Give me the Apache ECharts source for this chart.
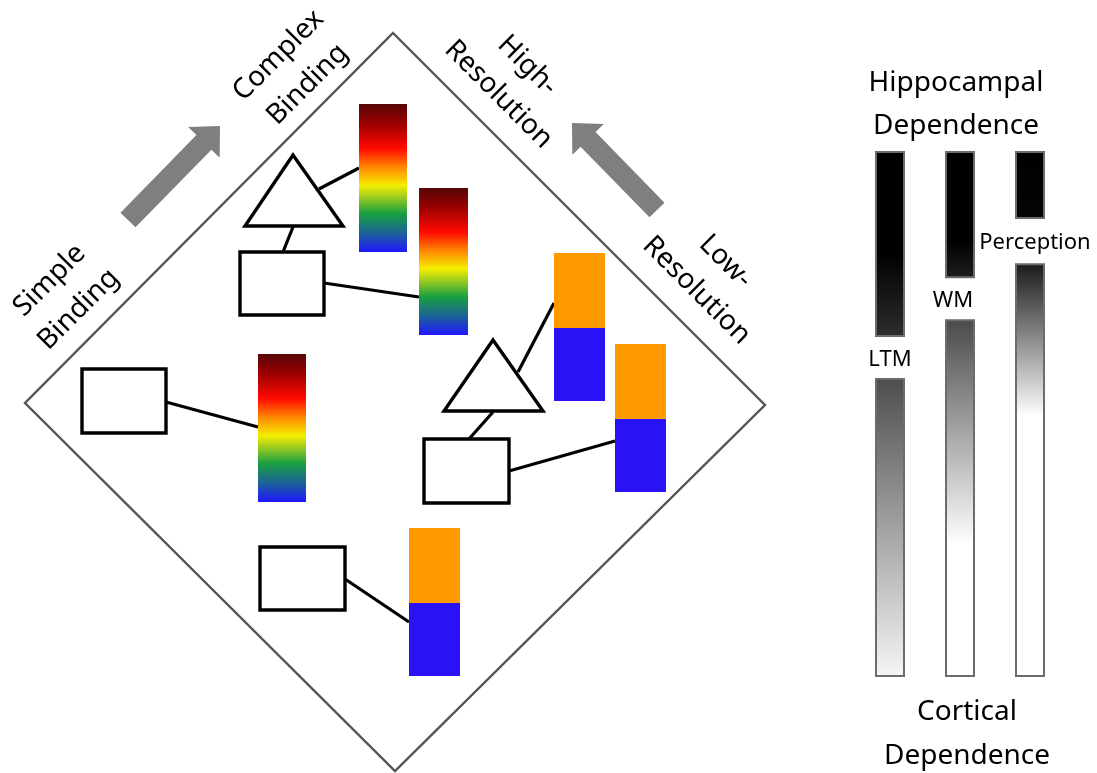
<!DOCTYPE html>
<html>
<head>
<meta charset="utf-8">
<title>Binding and resolution</title>
<script src="https://cdn.jsdelivr.net/npm/echarts@6/dist/echarts.min.js"></script>
<style>
  html, body { margin: 0; padding: 0; background: #fff; }
  #main { width: 1097px; height: 773px; }
</style>
</head>
<body>
<div id="main"></div>
<script>
// diagram data, in diagram units (x to the right, y downwards)
var frameCorners = [[393, 33], [765, 405], [395, 771], [25, 403]];
var arrowLines = [[128, 220, 220, 126], [657, 210, 572, 123]]; // tail x,y -> tip x,y
var triangles = [[293, 155, 245, 226, 343, 226], [493, 340, 444, 411, 543, 411]];
var boxes = [[240, 252, 324, 315], [82, 369, 166, 433], [424, 439, 509, 503], [260, 547, 345, 610]];
var spectrumBars = [[359, 104, 407, 252], [419, 188, 468, 335], [258, 354, 306, 502]];
var twoToneBars = [[554, 253, 328, 605, 401], [615, 344, 419, 666, 492], [409, 528, 603, 460, 676]]; // x0, top, split, x1, bottom
var links = [
  [319, 189, 359, 168], [293, 227, 283, 252], [324, 283, 419, 297], [166, 402, 258, 427],
  [518, 372, 554, 303], [493, 412, 469, 439], [509, 471, 615, 441], [345, 579, 409, 622]
];
var axisTitles = ['Simple\nBinding', 'Complex\nBinding', 'High-\nResolution', 'Low-\nResolution'];
var axisTitleAt = [[64, 295], [293, 70], [513, 80], [711, 276]];
var axisTitleAngle = [45, 45, -45, -45];

// right panel: where hippocampal part ends / cortical part starts (% of bar, from top)
var memoryTypes = ['LTM', 'WM', 'Perception'];
var hippoEnd = [35.1, 23.9, 12.6];
var cortexStart = [43.3, 32.1, 21.4];
var panelTitles = ['Hippocampal\nDependence', 'Cortical\nDependence'];

var chart = echarts.init(document.getElementById('main'));

var FONT = '"Noto Sans", "Open Sans", sans-serif';
var rainbow = [
  { offset: 0, color: '#560606' },
  { offset: 0.14, color: '#a00000' },
  { offset: 0.3, color: '#ff0a00' },
  { offset: 0.43, color: '#ff8a00' },
  { offset: 0.55, color: '#f4ee00' },
  { offset: 0.63, color: '#9ccc20' },
  { offset: 0.74, color: '#18a040' },
  { offset: 0.87, color: '#1c6496' },
  { offset: 1, color: '#2016ff' }
];
var upperStops = [
  [{ offset: 0, color: '#000' }, { offset: 0.55, color: '#000' }, { offset: 1, color: '#2e2e2e' }],
  [{ offset: 0, color: '#000' }, { offset: 0.7, color: '#000' }, { offset: 1, color: '#1e1e1e' }],
  [{ offset: 0, color: '#000' }, { offset: 1, color: '#050505' }]
];
var lowerStops = [
  [{ offset: 0, color: '#4d4d4d' }, { offset: 1, color: '#f6f6f6' }],
  [{ offset: 0, color: '#4a4a4a' }, { offset: 0.63, color: '#ffffff' }, { offset: 1, color: '#ffffff' }],
  [{ offset: 0, color: '#1a1a1a' }, { offset: 0.37, color: '#ffffff' }, { offset: 1, color: '#ffffff' }]
];
var labelShift = [0, -7, 5];

function vals(api, n) {
  var out = [];
  for (var i = 0; i < n; i++) out.push(api.value(i));
  return out;
}

function centredText(text, size, lineHeight) {
  return {
    text: text, fontSize: size, fontFamily: FONT, fill: '#000', lineHeight: lineHeight,
    align: 'center', verticalAlign: 'middle', textAlign: 'center', textVerticalAlign: 'middle'
  };
}

var series = [];

// frame
series.push({
  type: 'custom', xAxisIndex: 0, yAxisIndex: 0, silent: true,
  data: [[].concat.apply([], frameCorners)],
  renderItem: function (params, api) {
    var v = vals(api, 8), pts = [];
    for (var i = 0; i < 8; i += 2) pts.push(api.coord([v[i], v[i + 1]]));
    return { type: 'polygon', shape: { points: pts }, style: { fill: 'none', stroke: '#555', lineWidth: 2.4 } };
  }
});

// arrows
series.push({
  type: 'custom', xAxisIndex: 0, yAxisIndex: 0, silent: true,
  data: arrowLines,
  renderItem: function (params, api) {
    var t = api.coord([api.value(0), api.value(1)]);
    var p = api.coord([api.value(2), api.value(3)]);
    var dx = p[0] - t[0], dy = p[1] - t[1], len = Math.sqrt(dx * dx + dy * dy);
    dx /= len; dy /= len;
    var nx = -dy, ny = dx, hl = 23, hw = 22, sw = 10.5;
    var b = [p[0] - dx * hl, p[1] - dy * hl];
    var pts = [
      [t[0] + nx * sw, t[1] + ny * sw], [b[0] + nx * sw, b[1] + ny * sw], [b[0] + nx * hw, b[1] + ny * hw],
      p, [b[0] - nx * hw, b[1] - ny * hw], [b[0] - nx * sw, b[1] - ny * sw], [t[0] - nx * sw, t[1] - ny * sw]
    ];
    return { type: 'polygon', shape: { points: pts }, style: { fill: '#7f7f7f' } };
  }
});

// connecting lines
series.push({
  type: 'custom', xAxisIndex: 0, yAxisIndex: 0, silent: true,
  data: links,
  renderItem: function (params, api) {
    var a = api.coord([api.value(0), api.value(1)]);
    var b = api.coord([api.value(2), api.value(3)]);
    return { type: 'line', shape: { x1: a[0], y1: a[1], x2: b[0], y2: b[1] }, style: { stroke: '#000', lineWidth: 3.2 } };
  }
});

// triangles
series.push({
  type: 'custom', xAxisIndex: 0, yAxisIndex: 0, silent: true,
  data: triangles,
  renderItem: function (params, api) {
    var v = vals(api, 6), pts = [];
    for (var i = 0; i < 6; i += 2) pts.push(api.coord([v[i], v[i + 1]]));
    return { type: 'polygon', shape: { points: pts }, style: { fill: '#fff', stroke: '#000', lineWidth: 3.4, lineJoin: 'miter' } };
  }
});

// boxes
series.push({
  type: 'custom', xAxisIndex: 0, yAxisIndex: 0, silent: true,
  data: boxes,
  renderItem: function (params, api) {
    var a = api.coord([api.value(0), api.value(1)]);
    var b = api.coord([api.value(2), api.value(3)]);
    return { type: 'rect', shape: { x: a[0], y: a[1], width: b[0] - a[0], height: b[1] - a[1] }, style: { fill: '#fff', stroke: '#000', lineWidth: 3.4 } };
  }
});

// rainbow bars
series.push({
  type: 'custom', xAxisIndex: 0, yAxisIndex: 0, silent: true,
  data: spectrumBars,
  renderItem: function (params, api) {
    var a = api.coord([api.value(0), api.value(1)]);
    var b = api.coord([api.value(2), api.value(3)]);
    return {
      type: 'rect', shape: { x: a[0], y: a[1], width: b[0] - a[0], height: b[1] - a[1] },
      style: { fill: new echarts.graphic.LinearGradient(0, 0, 0, 1, rainbow) }
    };
  }
});

// orange / blue bars
series.push({
  type: 'custom', xAxisIndex: 0, yAxisIndex: 0, silent: true,
  data: twoToneBars,
  renderItem: function (params, api) {
    var x0 = api.value(0), x1 = api.value(3);
    var a = api.coord([x0, api.value(1)]);
    var m = api.coord([x1, api.value(2)]);
    var b = api.coord([x1, api.value(4)]);
    return {
      type: 'group',
      children: [
        { type: 'rect', shape: { x: a[0], y: a[1], width: m[0] - a[0], height: m[1] - a[1] }, style: { fill: '#ff9900' } },
        { type: 'rect', shape: { x: a[0], y: m[1], width: b[0] - a[0], height: b[1] - m[1] }, style: { fill: '#2a12f6' } }
      ]
    };
  }
});

// rotated titles round the frame
series.push({
  type: 'custom', xAxisIndex: 0, yAxisIndex: 0, silent: true,
  data: axisTitleAt,
  renderItem: function (params, api) {
    var c = api.coord([api.value(0), api.value(1)]);
    return {
      type: 'text', x: c[0], y: c[1], rotation: axisTitleAngle[params.dataIndex] * Math.PI / 180,
      style: centredText(axisTitles[params.dataIndex], 28, 41)
    };
  }
});

// right panel: dependence bars
series.push({
  type: 'custom', xAxisIndex: 1, yAxisIndex: 1, silent: true,
  data: memoryTypes.map(function (m, i) { return [i, hippoEnd[i], cortexStart[i]]; }),
  renderItem: function (params, api) {
    var i = params.dataIndex;
    var top = api.coord([api.value(0), 0]);
    var end = api.coord([api.value(0), api.value(1)]);
    var start = api.coord([api.value(0), api.value(2)]);
    var bot = api.coord([api.value(0), 100]);
    var w = api.size([1, 0])[0] * 0.4;
    var x = top[0] - w / 2;
    var border = { stroke: '#6c6c6c', lineWidth: 2 };
    var children = [
      { type: 'rect', shape: { x: x, y: top[1], width: w, height: end[1] - top[1] },
        style: Object.assign({ fill: new echarts.graphic.LinearGradient(0, 0, 0, 1, upperStops[i]) }, border) },
      { type: 'rect', shape: { x: x, y: start[1], width: w, height: bot[1] - start[1] },
        style: Object.assign({ fill: new echarts.graphic.LinearGradient(0, 0, 0, 1, lowerStops[i]) }, border) },
      { type: 'text', x: top[0] + labelShift[i], y: (end[1] + start[1]) / 2 + 2,
        style: centredText(memoryTypes[i], 22, 26) }
    ];
    // panel titles above and below the middle bar
    if (i === 1) {
      children.push({ type: 'text', x: top[0] - 4, y: top[1] - 47, style: centredText(panelTitles[0], 28, 43) });
      children.push({ type: 'text', x: top[0] + 7, y: bot[1] + 58, style: centredText(panelTitles[1], 28, 44) });
    }
    return { type: 'group', children: children };
  }
});

chart.setOption({
  backgroundColor: '#fff',
  animation: false,
  grid: [
    { left: 0, top: 0, width: 1097, height: 773 },
    { left: 855, top: 152, width: 210, height: 524 }
  ],
  xAxis: [
    { type: 'value', gridIndex: 0, min: 0, max: 1097, show: false },
    { type: 'category', gridIndex: 1, data: memoryTypes, show: false }
  ],
  yAxis: [
    { type: 'value', gridIndex: 0, min: 0, max: 773, inverse: true, show: false },
    { type: 'value', gridIndex: 1, min: 0, max: 100, inverse: true, show: false }
  ],
  series: series
});
</script>
</body>
</html>
